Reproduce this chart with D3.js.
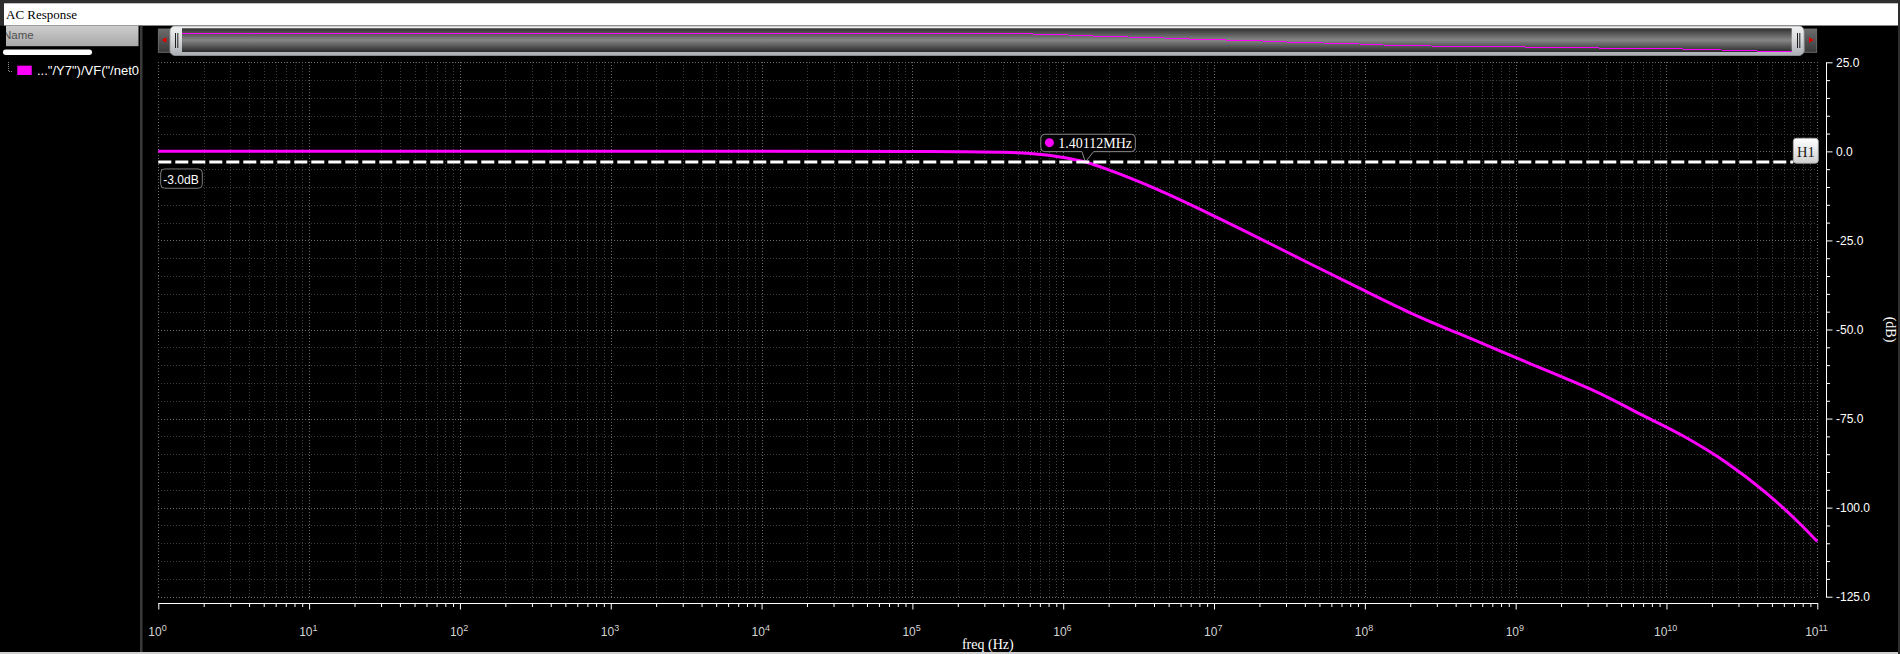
<!DOCTYPE html>
<html><head><meta charset="utf-8">
<script src="https://cdn.jsdelivr.net/npm/d3@7"></script>
<style>html,body{margin:0;padding:0;background:#000;overflow:hidden}svg{display:block}</style>
</head><body>
<script>
// ---------------- data ----------------
const windowTitle = "AC Response";
const panelHeader = "Name";
const traceName = '..."/Y7")/VF("/net0';
const freqHz = [1, 10, 100, 1e3, 1e4, 1e5, 2.0e5, 4.57e5, 9.3e5, 1.40112e6, 2.0e6, 4.27e6, 9.2e6,
  2.0e7, 4.27e7, 9.2e7, 1.95e8, 6.0e8, 1.07e9, 2.14e9, 3.55e9, 6.46e9, 1.32e10, 2.45e10, 4.47e10, 7.41e10, 1e11];
const gainDb = [0, 0, 0, 0, 0, -0.03, -0.1, -0.35, -1.5, -3.0, -5.2, -10.8, -17.4,
  -24.4, -31.4, -38.4, -45.1, -53.9, -58.4, -63.7, -67.8, -73.4, -80.1, -87.1, -95.5, -103.9, -109.5];
const xTickExponents = [0, 1, 2, 3, 4, 5, 6, 7, 8, 9, 10, 11];
const yTickValues = [25, 0, -25, -50, -75, -100, -125];
const yTickLabels = ["25.0", "0.0", "-25.0", "-50.0", "-75.0", "-100.0", "-125.0"];
const yMinorStep = 5;
const markerFreq = 1.40112e6;
const markerLabel = "1.40112MHz";
const hLineDb = -3.0;
const hLineLabel = "-3.0dB";
const hLineName = "H1";
const xAxisTitle = "freq (Hz)";
const yAxisTitle = "(dB)";

// ---------------- setup ----------------
const W = 1900, H = 654;
const SANS = "'Liberation Sans', Arial, sans-serif";
const SERIF = "'Liberation Serif', 'Times New Roman', serif";
const svg = d3.select("body").append("svg").attr("width", W).attr("height", H);
const defs = svg.append("defs");
function vgrad(id, stops) {
  const g = defs.append("linearGradient").attr("id", id).attr("x1", 0).attr("y1", 0).attr("x2", 0).attr("y2", 1);
  stops.forEach(([o, c]) => g.append("stop").attr("offset", o).attr("stop-color", c));
}
vgrad("gHeader", [[0, "#cdcdcd"], [1, "#a8a8a8"]]);
vgrad("gThumb", [[0, "#f2f3f4"], [0.5, "#d4d6d8"], [1, "#a9aeb4"]]);
vgrad("gWell", [[0, "#2e2e2e"], [0.12, "#454545"], [0.5, "#868686"], [0.88, "#404040"], [1, "#2a2a2a"]]);
vgrad("gBtn", [[0, "#6c6c6c"], [1, "#3a3a3a"]]);
vgrad("gH1", [[0, "#ffffff"], [1, "#cfcfcf"]]);

const data = freqHz.map((f, i) => ({ f, g: gainDb[i] }));

// scales
const x = d3.scaleLog().domain([1, 1e11]).range([158.3, 1817.3]);
const y = d3.scaleLinear().domain([-125, 25]).range([596.7, 62.3]);

// ---------------- window chrome ----------------
svg.append("rect").attr("width", W).attr("height", H).attr("fill", "#000");
svg.append("rect").attr("x", 0).attr("y", 0).attr("width", W).attr("height", 26).attr("fill", "#2e2e2e");
svg.append("rect").attr("x", 4).attr("y", 3.3).attr("width", 1894).attr("height", 22.4).attr("fill", "#fff");
svg.append("text").attr("x", 6).attr("y", 19).text(windowTitle)
  .attr("font-family", SERIF).attr("font-size", 13).attr("fill", "#000");
svg.append("rect").attr("x", 0).attr("y", 25.7).attr("width", W).attr("height", 627).attr("fill", "#000");
svg.append("rect").attr("x", 1898).attr("y", 0).attr("width", 2).attr("height", H).attr("fill", "#2e2e2e");
svg.append("rect").attr("x", 0).attr("y", 652).attr("width", 1898).attr("height", 2).attr("fill", "#cfcfcf");

// left panel
defs.append("clipPath").attr("id", "hdrClip").append("rect").attr("x", 6).attr("y", 25.7).attr("width", 132.5).attr("height", 20.5);
svg.append("rect").attr("x", 6).attr("y", 25.7).attr("width", 132.5).attr("height", 20.5).attr("fill", "url(#gHeader)");
svg.append("text").attr("x", 3).attr("y", 38.5).attr("clip-path", "url(#hdrClip)").text(panelHeader)
  .attr("font-family", SANS).attr("font-size", 11.5).attr("fill", "#505050");
svg.append("rect").attr("x", 140).attr("y", 25.7).attr("width", 2.5).attr("height", 626.3).attr("fill", "#3a3a3a");
svg.append("rect").attr("x", 3).attr("y", 49.5).attr("width", 89).attr("height", 5.5).attr("rx", 2.75).attr("fill", "#fff");
svg.append("path").attr("d", "M8.5,62V71.5H13").attr("fill", "none").attr("stroke", "#8a8a8a")
  .attr("stroke-dasharray", "1,1");
svg.append("rect").attr("x", 17.3).attr("y", 65.7).attr("width", 14.4).attr("height", 9.3).attr("fill", "#ff00ff");
svg.append("text").attr("x", 37).attr("y", 75).text(traceName)
  .attr("font-family", SANS).attr("font-size", 13).attr("fill", "#fff");

// ---------------- scrollbar with overview ----------------
svg.append("rect").attr("x", 158.3).attr("y", 29).attr("width", 14).attr("height", 23.3)
  .attr("fill", "url(#gBtn)").attr("stroke", "#777").attr("stroke-width", 0.8);
svg.append("path").attr("d", "M161.5,40L166.5,37.3V42.7Z").attr("fill", "#e00000");
svg.append("rect").attr("x", 1804.5).attr("y", 29).attr("width", 12.2).attr("height", 23.3)
  .attr("fill", "url(#gBtn)").attr("stroke", "#777").attr("stroke-width", 0.8);
svg.append("path").attr("d", "M1813.8,40L1809,37.3V42.7Z").attr("fill", "#e00000");
svg.append("rect").attr("x", 170).attr("y", 26).attr("width", 1634).attr("height", 29.5).attr("rx", 5)
  .attr("fill", "url(#gThumb)").attr("stroke", "#9a9a9a").attr("stroke-width", 0.8);
svg.append("rect").attr("x", 182).attr("y", 28.3).attr("width", 1609.7).attr("height", 23.7)
  .attr("fill", "url(#gWell)");
[175.5, 177.8, 1797.5, 1799.8].forEach(gx =>
  svg.append("line").attr("x1", gx).attr("x2", gx).attr("y1", 33).attr("y2", 48)
    .attr("stroke", "#1e1e1e").attr("stroke-width", 1));
defs.append("clipPath").attr("id", "wellClip").append("rect").attr("x", 182).attr("y", 28.3).attr("width", 1609.7).attr("height", 23.7);
const xo = d3.scaleLog().domain([1, 1e11]).range([182, 1791.7]);
const yo = d3.scaleLinear().domain([0, -5, -47.6, -109.5]).range([33, 36, 45.3, 51.2]);
svg.append("path").datum(data).attr("clip-path", "url(#wellClip)")
  .attr("d", d3.line().x(d => xo(d.f)).y(d => Math.round(yo(d.g)) + 0.5))
  .attr("fill", "none").attr("stroke", "#ff00ff").attr("stroke-width", 1).attr("shape-rendering", "crispEdges");

// ---------------- grid ----------------
const gridFreqs = [];
xTickExponents.forEach(e => {
  if (e === xTickExponents[xTickExponents.length - 1]) { gridFreqs.push({ v: Math.pow(10, e), major: true }); return; }
  for (let m = 1; m <= 9; m++) gridFreqs.push({ v: m * Math.pow(10, e), major: m === 1 });
});
const gridDb = d3.range(-125, 25 + 0.01, yMinorStep);
const grid = svg.append("g").attr("shape-rendering", "crispEdges");
grid.selectAll("line.v").data(gridFreqs).join("line").attr("class", "v")
  .attr("x1", d => Math.round(x(d.v)) + 0.5).attr("x2", d => Math.round(x(d.v)) + 0.5)
  .attr("y1", y(25)).attr("y2", y(-125))
  .attr("stroke", d => d.major ? "#6e6e6e" : "#3e3e3e").attr("stroke-dasharray", "1,2");
grid.selectAll("line.h").data(gridDb).join("line").attr("class", "h")
  .attr("y1", d => Math.round(y(d)) + 0.5).attr("y2", d => Math.round(y(d)) + 0.5)
  .attr("x1", x(1)).attr("x2", x(1e11))
  .attr("stroke", d => d % 25 === 0 ? "#6e6e6e" : "#3e3e3e").attr("stroke-dasharray", "1,2");

// ---------------- marker callout (box body) ----------------
const tipX = x(markerFreq), tipY = y(hLineDb);
const bx0 = tipX - 44.5, bx1 = tipX + 50, by1 = tipY - 10.4, by0 = by1 - 17.4, r = 4;
const px1 = tipX - 3.3, px2 = tipX + 8.3;
const callout = `M${bx0 + r},${by0}H${bx1 - r}Q${bx1},${by0} ${bx1},${by0 + r}V${by1 - r}Q${bx1},${by1} ${bx1 - r},${by1}` +
  `H${px2}L${tipX},${tipY}L${px1},${by1}H${bx0 + r}Q${bx0},${by1} ${bx0},${by1 - r}V${by0 + r}Q${bx0},${by0} ${bx0 + r},${by0}Z`;
svg.append("path").attr("d", callout).attr("fill", "#000").attr("stroke", "#8a8a8a").attr("stroke-width", 1);
svg.append("circle").attr("cx", tipX - 35.9).attr("cy", tipY - 19.4).attr("r", 4.5).attr("fill", "#ff00ff");
svg.append("text").attr("x", tipX - 27).attr("y", tipY - 14.4).text(markerLabel)
  .attr("font-family", SERIF).attr("font-size", 14).attr("fill", "#fff");

// ---------------- curve ----------------
svg.append("path").datum(data)
  .attr("d", d3.line().x(d => x(d.f)).y(d => y(d.g)).curve(d3.curveMonotoneX))
  .attr("fill", "none").attr("stroke", "#ff00ff").attr("stroke-width", 3).attr("stroke-linejoin", "round");

// ---------------- horizontal marker H1 ----------------
const h1x0 = 1793.3, h1x1 = 1818.3;
svg.append("line").attr("x1", x(1)).attr("x2", h1x0).attr("y1", y(hLineDb)).attr("y2", y(hLineDb))
  .attr("stroke", "#fff").attr("stroke-width", 3).attr("stroke-dasharray", "13,4");
svg.append("rect").attr("x", h1x0).attr("y", y(hLineDb) - 23.8).attr("width", h1x1 - h1x0).attr("height", 25)
  .attr("rx", 3).attr("fill", "url(#gH1)").attr("stroke", "#a8a8a8").attr("stroke-width", 0.8);
svg.append("text").attr("x", (h1x0 + h1x1) / 2).attr("y", y(hLineDb) - 4.8).attr("text-anchor", "middle")
  .text(hLineName).attr("font-family", SERIF).attr("font-size", 14.5).attr("fill", "#1a1a1a");
svg.append("rect").attr("x", x(1) + 2.4).attr("y", y(hLineDb) + 6.9).attr("width", 41.6).attr("height", 19.3)
  .attr("rx", 4).attr("fill", "#000").attr("stroke", "#7a7a7a").attr("stroke-width", 1);
svg.append("text").attr("x", x(1) + 5).attr("y", y(hLineDb) + 22).text(hLineLabel)
  .attr("font-family", SANS).attr("font-size", 12).attr("fill", "#fff");

// ---------------- x axis ----------------
const xAxisY = 603;
const minorX = svg.append("g").attr("transform", `translate(0,${xAxisY})`)
  .call(d3.axisBottom(x).tickValues(gridFreqs.filter(d => !d.major).map(d => d.v)).tickSize(4).tickSizeOuter(0).tickFormat(""));
const majorX = svg.append("g").attr("transform", `translate(0,${xAxisY})`)
  .call(d3.axisBottom(x).tickValues(xTickExponents.map(e => Math.pow(10, e))).tickSize(6.5).tickSizeOuter(0).tickFormat(""));
[minorX, majorX].forEach(g => { g.selectAll("path,line").attr("stroke", "#fff"); g.selectAll("text").remove(); });
const xl = svg.append("g").selectAll("text").data(xTickExponents).join("text")
  .attr("x", e => x(Math.pow(10, e)) - 0.8).attr("y", 636).attr("text-anchor", "middle")
  .attr("font-family", SANS).attr("font-size", 12).attr("fill", "#d4d4d4");
xl.append("tspan").text("10");
xl.append("tspan").attr("dy", -5.5).attr("font-size", 9).text(e => String(e));
svg.append("text").attr("x", (x(1) + x(1e11)) / 2).attr("y", 649).attr("text-anchor", "middle")
  .text(xAxisTitle).attr("font-family", SERIF).attr("font-size", 14).attr("fill", "#fff");

// ---------------- y axis ----------------
const yAxisX = 1826;
const minorY = svg.append("g").attr("transform", `translate(${yAxisX},0)`)
  .call(d3.axisRight(y).tickValues(gridDb.filter(d => d % 25 !== 0)).tickSize(4).tickSizeOuter(0).tickFormat(""));
const majorY = svg.append("g").attr("transform", `translate(${yAxisX},0)`)
  .call(d3.axisRight(y).tickValues(yTickValues).tickSize(6.5).tickSizeOuter(0).tickPadding(3.5)
    .tickFormat(d => yTickLabels[yTickValues.indexOf(d)]));
[minorY, majorY].forEach(g => g.selectAll("path,line").attr("stroke", "#fff"));
majorY.selectAll("text").attr("font-family", SANS).attr("font-size", 12).attr("fill", "#fff");
svg.append("text").attr("transform", `translate(1890,${(y(25) + y(-125)) / 2}) rotate(90)`)
  .attr("text-anchor", "middle").attr("dominant-baseline", "central")
  .text(yAxisTitle).attr("font-family", SERIF).attr("font-size", 14).attr("fill", "#fff");
</script>
</body></html>
